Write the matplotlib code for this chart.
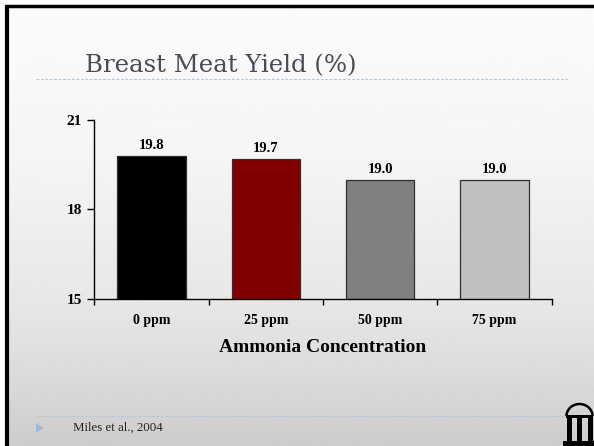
import numpy as np
import matplotlib.pyplot as plt
from matplotlib.patches import Arc, Rectangle, Polygon

# data
categories = ["0 ppm", "25 ppm", "50 ppm", "75 ppm"]
yield_pct = [19.8, 19.7, 19.0, 19.0]
value_labels = ["19.8", "19.7", "19.0", "19.0"]
bar_colors = ["#000000", "#800000", "#808080", "#c0c0c0"]
y_ticks = [15, 18, 21]

W, H = 594, 446
fig = plt.figure(figsize=(W / 100, H / 100), dpi=100)

# slide background, drawn in pixel coordinates
bg = fig.add_axes([0, 0, 1, 1], zorder=0)
bg.axis("off")
rows = np.arange(H)
shade = np.interp(rows, [0, 150, 300, 380, 446], [251, 245, 231, 218, 204]) / 255
grad = np.repeat(shade[:, None], 2, axis=1)
bg.imshow(grad, cmap="gray", vmin=0, vmax=1, aspect="auto",
          extent=(7, W, H, 7), interpolation="bilinear")
bg.set_xlim(0, W)
bg.set_ylim(H, 0)

# black frame on left and top
bg.plot([6.5, 6.5], [5, H], color="black", lw=3, solid_capstyle="butt")
bg.plot([5, W], [6, 6], color="black", lw=2.5, solid_capstyle="butt")

# title and dotted rules
bg.text(85, 72, "Breast Meat Yield (%)", fontsize=17.6, family="DejaVu Serif",
        color="#4b4b57", va="baseline", ha="left")
rule = dict(color="#b4c6d8", lw=0.8, linestyle=(0, (2.5, 1.5)))
bg.plot([36, 568], [79.3, 79.3], **rule)
bg.plot([36, 565], [415.7, 415.7], **rule)

# footer
bg.add_patch(Polygon([[36, 423], [36, 433], [43.5, 428]], closed=True,
                     color="#9dbad6", lw=0))
bg.text(73, 427.5, "Miles et al., 2004", fontsize=9.3, family="Liberation Serif",
        color="#222222", va="center", ha="left")

# arch logo
bg.add_patch(Arc((579.5, 416), 26, 24, theta1=180, theta2=360, color="black", lw=1.8))
bg.add_patch(Rectangle((566, 414.5), 27, 3, color="black", lw=0))
for cx in [566.5, 576.5, 587.5]:
    bg.add_patch(Rectangle((cx, 417), 5, 24, color="black", lw=0))
bg.add_patch(Rectangle((563, 440.5), 31, 5.5, color="black", lw=0))

# chart
ax = fig.add_axes([94.3 / W, 1 - 298.5 / H, (551.7 - 94.3) / W, (298.5 - 120) / H],
                  zorder=1)
ax.patch.set_alpha(0)
x = np.arange(len(categories))
bars = ax.bar(x, yield_pct, width=0.6, color=bar_colors, edgecolor="#303030",
              linewidth=0.9, zorder=2)

bold = dict(family="Liberation Serif", weight="bold")
for b, lab in zip(bars, value_labels):
    ax.annotate(lab, (b.get_x() + b.get_width() / 2, b.get_height()),
                xytext=(0, 4.5), textcoords="offset points", ha="center",
                va="baseline", fontsize=10.5, **bold)

ax.set_xlim(-0.5, 3.5)
ax.set_ylim(15, 21)
ax.set_yticks(y_ticks)
ax.set_yticklabels([str(t) for t in y_ticks], fontsize=11, **bold)
ax.set_xticks(x)
ax.set_xticklabels(categories, fontsize=10, **bold)
ax.set_xticks(np.arange(-0.5, 4, 1), minor=True)
ax.tick_params(axis="x", which="major", length=0, pad=11)
ax.tick_params(axis="x", which="minor", length=4, width=1, direction="out")
ax.tick_params(axis="y", length=5, width=1, direction="out", pad=4)
ax.set_xlabel("Ammonia Concentration", fontsize=14, labelpad=9, **bold)

for s in ["top", "right"]:
    ax.spines[s].set_visible(False)
for s in ["left", "bottom"]:
    ax.spines[s].set_linewidth(1)

fig.savefig("out.png", dpi=100)
